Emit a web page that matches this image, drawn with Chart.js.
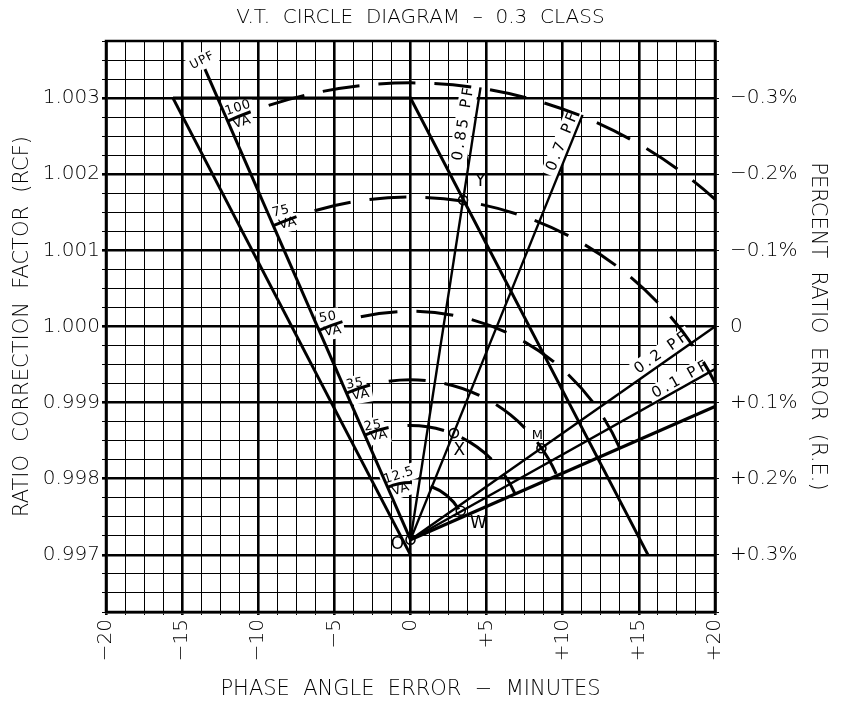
<!DOCTYPE html>
<html>
<head>
<meta charset="utf-8">
<script src="https://cdn.jsdelivr.net/npm/chart.js@4/dist/chart.umd.min.js"></script>
<style>
html,body{margin:0;padding:0;background:#fff;}
canvas{display:block;}
</style>
</head>
<body>
<canvas id="c" width="841" height="702"></canvas>
<script>
// ---------------- data ----------------
const phaseTicks = [-20, -15, -10, -5, 0, 5, 10, 15, 20];
const phaseTickLabels = ['−20', '−15', '−10', '−5', '0', '+5', '+10', '+15', '+20'];
const rcfTicks = [0.997, 0.998, 0.999, 1.000, 1.001, 1.002, 1.003];
const rcfTickLabels = ['0.997', '0.998', '0.999', '1.000', '1.001', '1.002', '1.003'];
const reTickLabels = ['+0.3%', '+0.2%', '+0.1%', '0', '−0.1%', '−0.2%', '−0.3%'];

// origin O of the circle diagram
const originX = 0;
const originY = 0.9972;

// 0.3 accuracy class parallelogram corners
const classX = [-15.6, 0, 15.6, 0];
const classY = [1.003, 1.003, 0.997, 0.997];

// power-factor lines drawn from O (end points)
const pfNames = ['UPF', '0.85 PF', '0.7 PF', '0.2 PF', '0.1 PF', '0 PF'];
const pfEndX = [-13.5, 4.6, 11.3, 20, 20, 20];
const pfEndY = [1.00338, 1.00314, 1.00278, 1.0000, 0.99944, 0.99895];

// burden circles (centred on O)
const burdenVA = [100, 75, 50, 35, 25, 12.5];
const burdenRadiusMin = [30, 22.5, 15, 10.5, 7.5, 3.75];
const burdenRadiusRCF = [0.006, 0.0045, 0.003, 0.0021, 0.0015, 0.00075];

// marked points
const markNames = ['O', 'Y', 'X', 'M', 'W'];
const markX = [0, 3.45, 2.85, 8.6, 3.3];
const markY = [0.9972, 1.00166, 0.9986, 0.9984, 0.99758];

// text annotations (data coordinates)
const labelText = ['UPF', '100', 'VA', '75', 'VA', '50', 'VA', '35', 'VA', '25', 'VA', '12.5', 'VA',
  '0.85 PF', '0.7 PF', '0.2 PF', '0.1 PF', 'Y', 'X', 'M', 'W', 'O'];
const labelX = [-13.7, -11.34, -11.08, -8.52, -8.07, -5.44, -5.11, -3.67, -3.28, -2.49, -2.10, -0.79, -0.66,
  3.48, 9.97, 16.46, 17.7, 4.59, 3.21, 8.33, 4.46, -0.85];
const labelY = [1.00349, 1.00287, 1.00268, 1.00151, 1.00135, 1.00012, 0.99994, 0.999245, 0.99910, 0.998695, 0.998565, 0.998042, 0.997859,
  1.002656, 1.002421, 0.999649, 0.999297, 1.0019, 0.99837, 0.998565, 0.997415, 0.99714];

// ---------------- styles ----------------
const FONT = "'DejaVu Sans', sans-serif";
const WEIGHT = 200;
const LABEL_WEIGHT = 'normal';
const labelStyle = [
  {rot:-27,size:12,sp:1,bg:true},
  {rot:-18,size:13,sp:0.5,bg:true},{rot:-18,size:13,sp:0.5,bg:true},
  {rot:-14,size:13,sp:0.5,bg:true},{rot:-14,size:13,sp:0.5,bg:true},
  {rot:-10,size:13,sp:0.5,bg:true},{rot:-10,size:13,sp:0.5,bg:true},
  {rot:-10,size:13,sp:0.5,bg:true},{rot:-10,size:13,sp:0.5,bg:true},
  {rot:-10,size:13,sp:0.5,bg:true},{rot:-10,size:13,sp:0.5,bg:true},
  {rot:-18,size:13,sp:0.5,bg:true},{rot:-18,size:13,sp:0.5,bg:true},
  {rot:-81,size:15,sp:3,bg:true},{rot:-68,size:15,sp:3,bg:true},
  {rot:-35,size:15,sp:3,bg:true},{rot:-29,size:15,sp:3,bg:true},
  {rot:0,size:17,sp:0,bg:false},{rot:0,size:17,sp:0,bg:false},
  {rot:0,size:13,sp:0,bg:false},{rot:0,size:17,sp:0,bg:false},{rot:0,size:17,sp:0,bg:false}
];

const X_MIN = -20, X_MAX = 20, X_STEP = 1.25;
const Y_MIN = 0.99625, Y_MAX = 1.00375, Y_STEP = 0.00025;

function gridValues(min, max, step) {
  const n = Math.round((max - min) / step), out = [];
  for (let i = 0; i <= n; i++) out.push(+(min + i * step).toFixed(6));
  return out;
}
const isMajorX = v => Math.abs(v / 5 - Math.round(v / 5)) < 1e-6;
const isMajorY = v => Math.abs(v * 1000 - Math.round(v * 1000)) < 1e-6;
const findIdx = (arr, v, eps) => arr.findIndex(t => Math.abs(t - v) < eps);

const axisFont = {family: FONT, size: 20, weight: WEIGHT};
const titleFont = {family: FONT, size: 21, weight: WEIGHT};

function lineDs(points, w) {
  return {data: points, showLine: true, borderColor: '#000', borderWidth: w,
    pointRadius: 0, pointHoverRadius: 0, fill: false, tension: 0, xAxisID: 'x', yAxisID: 'y'};
}

const datasets = [];
datasets.push(lineDs([0, 1, 2].map(i => ({x: classX[i], y: classY[i]})), 3));
datasets.push(lineDs([0, 3].map(i => ({x: classX[i], y: classY[i]})), 3));
pfEndX.forEach((x, i) => {
  datasets.push(lineDs([{x: originX, y: originY}, {x: x, y: pfEndY[i]}], i === 0 ? 3 : (i === 5 ? 3.2 : 2.4)));
});
datasets.push({data: markX.map((x, i) => ({x: x, y: markY[i]})), showLine: false,
  pointRadius: 4.5, pointBorderWidth: 1.6, pointBackgroundColor: 'rgba(0,0,0,0)',
  pointBorderColor: '#000', xAxisID: 'x', yAxisID: 'y'});

// ---------------- overlay plugin: burden arcs, frame, annotations ----------------
function labelBox(ctx, i, sx, sy, drawBg, drawText) {
  const st = labelStyle[i];
  const px = sx.getPixelForValue(labelX[i]), py = sy.getPixelForValue(labelY[i]);
  ctx.save();
  ctx.translate(px, py);
  ctx.rotate(st.rot * Math.PI / 180);
  ctx.font = LABEL_WEIGHT + ' ' + st.size + 'px ' + FONT;
  try { ctx.letterSpacing = st.sp + 'px'; } catch (e) {}
  const w = ctx.measureText(labelText[i]).width;
  const h = st.size * 0.8;
  if (drawBg && st.bg) {
    ctx.fillStyle = '#fff';
    ctx.fillRect(-w / 2 - 3, -h / 2 - 3, w + 6, h + 6);
  }
  if (drawText) {
    ctx.fillStyle = '#000';
    ctx.textAlign = 'center';
    ctx.textBaseline = 'middle';
    ctx.fillText(labelText[i], st.sp / 2, 0);
  }
  ctx.restore();
}

const overlay = {
  id: 'overlay',
  beforeDatasetsDraw(chart) {
    const {ctx, chartArea: a, scales} = chart;
    const sx = scales.x, sy = scales.y;
    // white boxes behind annotations
    labelText.forEach((t, i) => labelBox(ctx, i, sx, sy, true, false));
    // frame
    ctx.save();
    ctx.strokeStyle = '#000';
    ctx.lineWidth = 2.5;
    ctx.strokeRect(a.left, a.top, a.right - a.left, a.bottom - a.top);
    ctx.restore();
    // burden arcs
    const cx = sx.getPixelForValue(originX), cy = sy.getPixelForValue(originY);
    ctx.save();
    ctx.beginPath();
    ctx.rect(a.left, a.top, a.right - a.left, a.bottom - a.top);
    ctx.clip();
    ctx.strokeStyle = '#000';
    ctx.lineWidth = 3;
    ctx.lineCap = 'butt';
    ctx.setLineDash([37, 19]);
    ctx.lineDashOffset = 12;
    const last = pfEndX.length - 1;
    burdenVA.forEach((va, i) => {
      const rx = sx.getPixelForValue(originX + burdenRadiusMin[i]) - cx;
      const ry = cy - sy.getPixelForValue(originY + burdenRadiusRCF[i]);
      const d0x = sx.getPixelForValue(pfEndX[0]) - cx, d0y = sy.getPixelForValue(pfEndY[0]) - cy;
      const d1x = sx.getPixelForValue(pfEndX[last]) - cx, d1y = sy.getPixelForValue(pfEndY[last]) - cy;
      const t0 = Math.atan2(d0y / ry, d0x / rx);
      const t1 = Math.atan2(d1y / ry, d1x / rx);
      ctx.beginPath();
      ctx.ellipse(cx, cy, rx, ry, 0, t0, t1, false);
      ctx.stroke();
    });
    ctx.restore();
    // annotation text
    labelText.forEach((t, i) => labelBox(ctx, i, sx, sy, false, true));
  }
};

// ---------------- chart ----------------
new Chart(document.getElementById('c'), {
  type: 'scatter',
  data: {datasets: datasets},
  options: {
    responsive: false,
    animation: false,
    devicePixelRatio: 1,
    layout: {padding: 0},
    plugins: {
      legend: {display: false},
      tooltip: {enabled: false},
      title: {display: true, text: 'V.T.  CIRCLE  DIAGRAM  –  0.3  CLASS', color: '#000',
        font: {family: FONT, size: 20, weight: WEIGHT, lineHeight: 1.2}, padding: {top: 6, bottom: 11}}
    },
    scales: {
      x: {
        type: 'linear', position: 'bottom', min: X_MIN, max: X_MAX,
        afterBuildTicks: s => { s.ticks = gridValues(X_MIN, X_MAX, X_STEP).map(v => ({value: v})); },
        afterFit: s => { s.height = 90; },
        ticks: {
          autoSkip: false, minRotation: 90, maxRotation: 90, padding: 4, color: '#000', font: axisFont,
          callback: v => { const i = findIdx(phaseTicks, v, 1e-6); return i >= 0 ? phaseTickLabels[i] : ''; }
        },
        grid: {color: '#000', lineWidth: c => (c.tick && isMajorX(c.tick.value)) ? 2.6 : 1, tickLength: 3},
        border: {color: '#000', width: 2.5},
        title: {display: true, text: 'PHASE  ANGLE  ERROR  −  MINUTES', color: '#000', font: titleFont,
          padding: {top: 4, bottom: 0}}
      },
      y: {
        type: 'linear', position: 'left', min: Y_MIN, max: Y_MAX,
        afterBuildTicks: s => { s.ticks = gridValues(Y_MIN, Y_MAX, Y_STEP).map(v => ({value: v})); },
        afterFit: s => { s.width = 106; },
        ticks: {
          autoSkip: false, padding: 2, color: '#000', font: axisFont,
          callback: v => { const i = findIdx(rcfTicks, v, 1e-7); return i >= 0 ? rcfTickLabels[i] : ''; }
        },
        grid: {color: '#000', lineWidth: c => (c.tick && isMajorY(c.tick.value)) ? 2.6 : 1, tickLength: 4},
        border: {color: '#000', width: 2.5},
        title: {display: true, text: 'RATIO  CORRECTION  FACTOR  (RCF)', color: '#000', font: titleFont,
          padding: {top: 10}}
      },
      y2: {
        type: 'linear', position: 'right', min: Y_MIN, max: Y_MAX,
        afterBuildTicks: s => { s.ticks = gridValues(Y_MIN, Y_MAX, Y_STEP).map(v => ({value: v})); },
        afterFit: s => { s.width = 126; },
        ticks: {
          autoSkip: false, padding: 11, color: '#000', font: axisFont,
          callback: v => { const i = findIdx(rcfTicks, v, 1e-7); return i >= 0 ? reTickLabels[i] : ''; }
        },
        grid: {drawOnChartArea: false, color: '#000', lineWidth: 1, tickLength: 4},
        border: {color: '#000', width: 2.5},
        title: {display: true, text: 'PERCENT  RATIO  ERROR  (R.E.)', color: '#000', font: titleFont,
          padding: {top: 11}}
      }
    }
  },
  plugins: [overlay]
});
</script>
</body>
</html>
